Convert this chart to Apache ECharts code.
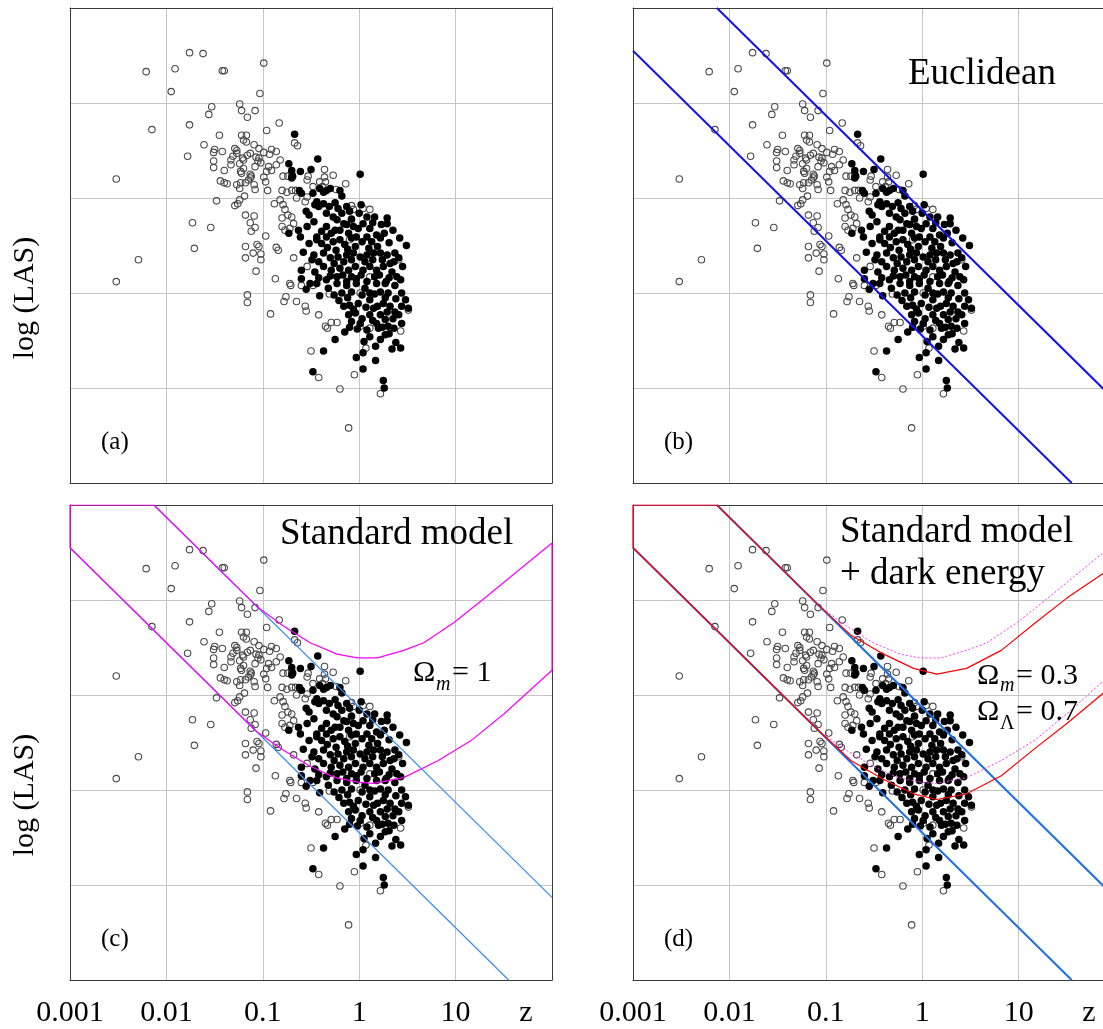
<!DOCTYPE html>
<html>
<head>
<meta charset="utf-8">
<script src="https://cdn.jsdelivr.net/npm/echarts@6/dist/echarts.min.js"></script>
<style>
  html, body { margin: 0; padding: 0; background: #ffffff; }
  #chart { width: 1103px; height: 1029px; }
</style>
</head>
<body>
<div id="chart"></div>
<script>
// Horizontal axis: log10(z); vertical axis: log(LAS) in decades (arbitrary zero).
const tickLabels = ['0.001', '0.01', '0.1', '1', '10', ''];

// Sources with open symbols: [log10 z, log LAS]
const openSources = [
  [-1.76,4.53],[-1.62,4.52],[-2.21,4.33],[-1.91,4.36],[-1.42,4.34],[-1.40,4.34],[-0.99,4.42],[-1.95,4.12],[-1.03,4.10],[-1.53,3.96],
  [-1.56,3.88],[-1.24,3.99],[-1.22,3.92],[-1.08,3.92],[-1.16,3.85],[-2.15,3.72],[-1.76,3.77],[-0.96,3.71],[-0.83,3.79],[-1.45,3.66],
  [-1.61,3.56],[-1.78,3.44],[-2.52,3.20],[-1.22,3.66],[-1.17,3.66],[-1.20,3.61],[-1.17,3.59],[-1.09,3.56],[-1.04,3.52],[-0.99,3.48],
  [-0.91,3.51],[-0.86,3.49],[-1.50,3.51],[-1.51,3.48],[-1.42,3.49],[-1.29,3.52],[-1.27,3.50],[-1.31,3.44],[-1.33,3.40],[-1.16,3.45],
  [-1.21,3.42],[-1.24,3.36],[-1.20,3.31],[-1.51,3.39],[-1.51,3.32],[-1.40,3.29],[-1.07,3.43],[-1.05,3.39],[-1.08,3.33],[-1.02,3.37],
  [-0.93,3.46],[-0.94,3.33],[-0.91,3.29],[-0.86,3.35],[-1.13,3.25],[-1.13,3.21],[-1.18,3.16],[-1.22,3.26],[-1.44,3.18],[-1.40,3.16],
  [-1.37,3.15],[-1.09,3.14],[-1.08,3.09],[-0.97,3.17],[-0.95,3.08],[-1.24,3.10],[-1.19,3.02],[-1.24,2.98],[-1.48,2.97],[-1.29,2.92],
  [-1.26,2.94],[-0.88,2.94],[-1.27,3.47],[-1.33,3.35],[-1.23,3.28],[-1.20,3.40],[-1.13,3.47],[-1.04,3.42],[-1.12,3.23],[-1.15,3.19],
  [-1.23,3.16],[-1.27,3.14],[-0.96,3.28],[-0.99,3.22],
  [-1.54,2.69],[-0.97,2.60],[-0.80,2.70],[-0.72,2.68],[-0.82,2.98],[-0.79,2.93],[-0.77,2.88],[-0.74,2.82],[-0.80,2.79],[-0.70,2.80],
  [-0.82,3.40],[-0.79,3.23],[-0.74,3.23],[-0.80,3.08],[-0.75,3.06],[-0.70,3.08],[-0.66,3.08],[-0.65,3.00],[-0.54,3.01],[-0.56,2.96],
  [-0.67,3.58],[-0.64,3.55],[-0.36,3.30],[-0.27,3.24],[-0.36,3.22],[-0.41,3.17],[-0.53,3.23],[-0.35,3.17],[-0.38,3.12],[-0.24,3.09],
  [-0.14,3.15],[-0.08,2.92],[-0.06,2.88],
  [-1.73,2.74],[-1.18,2.82],[-1.09,2.81],[-1.13,2.74],[-1.08,2.69],[-1.12,2.65],[-1.71,2.47],[-1.18,2.49],[-1.06,2.51],[-1.04,2.49],
  [-1.10,2.42],[-1.02,2.41],[-1.18,2.37],[-1.02,2.35],[-1.07,2.23],[-0.86,2.48],[-0.84,2.45],[-2.29,2.35],[-2.52,2.12],[-0.87,2.15],
  [-1.16,1.98],[-1.16,1.90],[-0.92,1.78],
  [-0.68,2.73],[-0.77,2.66],[-0.68,2.37],[-0.54,2.28],[-0.72,2.10],[0.41,2.35],[0.11,2.17],[-0.10,2.56],[-0.08,2.77],[0.04,2.89],
  [0.11,2.88],[-0.48,3.12],[-0.54,3.19],[-0.70,3.25],
  [-0.71,2.08],[-0.60,2.08],[-0.48,2.08],[-0.76,1.96],[-0.78,1.91],[-0.65,1.91],[-0.56,1.86],[-0.55,1.81],[-0.42,1.77],[-0.35,1.65],
  [-0.33,1.63],[-0.29,1.69],[-0.23,1.69],[0.01,1.65],[0.11,1.63],[0.43,1.60],[0.51,1.82],[0.07,1.42],[-0.50,1.39],[-0.05,1.14],
  [-0.42,1.11],[-0.20,0.99],[0.22,0.94],[-0.11,0.58],[-0.31,1.99],[0.01,2.00]
];

// Sources with filled symbols: [log10 z, log LAS]
const filledSources = [
  [-0.67,3.67],[-0.43,3.41],[-0.73,3.36],[-0.70,3.29],[-0.69,3.23],[-0.70,3.21],[-0.50,3.30],[-0.61,3.28],[-0.62,3.08],[-0.60,3.05],
  [-0.48,3.05],[-0.44,2.96],[-0.42,2.91],[-0.46,2.93],[-0.41,3.10],[-0.34,3.08],[-0.30,3.10],[-0.18,3.02],[-0.13,2.91],[-0.22,2.89],
  [-0.34,2.84],[-0.27,2.80],[-0.23,2.77],[-0.16,2.73],[-0.20,2.66],[-0.11,2.63],[-0.06,2.70],[-0.03,2.59],[-0.29,2.63],[-0.34,2.59],
  [-0.44,2.59],[-0.39,2.65],[-0.54,2.70],[-0.63,2.66],[-0.61,2.59],[-0.73,2.63],
  [0.01,3.25],[-0.37,3.06],[-0.20,3.08],[-0.37,2.94],[-0.55,2.86],[-0.52,2.82],[-0.18,2.84],[-0.10,2.86],[0.00,2.84],[0.08,2.80],
  [0.16,2.80],[0.29,2.79],[0.29,2.73],[0.23,2.72],[-0.34,2.70],[-0.25,2.66],[-0.13,2.72],[-0.01,2.68],[0.04,2.73],[0.11,2.68],
  [0.18,2.61],[0.22,2.58],[0.13,2.54],[0.08,2.59],[0.49,2.50],[-0.44,2.56],[-0.39,2.52],[-0.27,2.54],[-0.20,2.56],[-0.15,2.51],
  [-0.08,2.58],[-0.04,2.49],[0.03,2.54],[-0.58,2.43],[-0.49,2.35],[-0.60,2.24],[-0.46,2.22],[-0.37,2.42],[-0.30,2.37],[-0.22,2.38],
  [-0.13,2.40],[-0.06,2.42],[0.01,2.38],[0.08,2.40],[0.15,2.42],[0.22,2.42],[0.29,2.40],[0.37,2.42],[0.41,2.37],[0.32,2.31],
  [-0.37,2.28],[-0.29,2.24],[-0.20,2.26],[-0.11,2.24],[-0.04,2.28],[0.04,2.24],[0.11,2.28],[0.18,2.24],[0.25,2.28],[0.34,2.22],
  [0.39,2.17],[-0.34,2.14],[-0.23,2.17],[-0.13,2.12],[-0.03,2.15],[0.08,2.12],[0.16,2.17],[0.27,2.10],[-0.51,2.10],[-0.60,2.15],
  [-0.23,2.10],[-0.13,2.08],[-0.03,2.10],[0.18,2.10],[0.28,2.12],[0.37,2.08],[-0.18,2.00],[-0.08,2.01],[0.03,1.98],[0.11,2.00],
  [0.22,2.01],[0.30,2.00],[0.44,2.00],[-0.44,2.10],[-0.41,1.97],[-0.16,1.86],[-0.10,1.87],[-0.01,1.89],[0.11,1.93],[0.15,1.84],
  [0.25,1.89],[0.32,1.86],[0.37,1.80],[0.44,1.86],[0.51,1.84],[-0.04,1.79],[0.03,1.73],[0.11,1.77],[0.22,1.77],[0.27,1.72],
  [0.35,1.73],[-0.08,1.70],[0.01,1.68],[0.08,1.61],[0.18,1.68],[0.20,1.63],[0.30,1.65],[0.44,1.68],[-0.15,1.59],[0.27,1.56],
  [-0.25,1.51],[0.22,1.51],[0.38,1.48],[0.34,1.41],[0.43,1.42],[0.17,1.44],[-0.37,1.39],[0.04,1.37],[-0.03,1.32],[0.17,1.29],
  [0.04,1.20],[-0.48,1.17],[0.25,1.08],[0.26,1.00],
  [-0.47,2.75],[-0.31,2.91],[-0.25,2.95],[-0.08,2.78],[0.02,2.93],[0.14,2.74],[0.35,2.66],[0.26,2.63],[0.42,2.58],[0.31,2.53],
  [0.19,2.49],[0.10,2.47],[-0.12,2.46],[-0.24,2.45],[-0.33,2.48],[-0.52,2.52],[-0.47,2.40],[-0.42,2.33],[-0.26,2.31],[-0.16,2.33],
  [-0.08,2.35],[0.06,2.33],[0.14,2.35],[0.24,2.35],[0.36,2.33],[0.45,2.28],[0.43,2.14],[0.31,2.16],[0.21,2.19],[0.02,2.19],
  [-0.08,2.17],[-0.17,2.19],[-0.30,2.18],[-0.42,2.16],[-0.55,2.04],[-0.32,2.05],[-0.26,1.98],[-0.12,1.95],[0.06,2.05],[0.16,1.99],
  [0.27,1.95],[0.38,1.94],[0.48,1.93],[-0.21,1.92],[-0.06,1.83],[0.07,1.85],[0.19,1.86],[0.29,1.80],[0.41,1.77],[-0.11,1.77],
  [0.14,1.71],[0.24,1.64],[0.36,1.63],[-0.02,1.62],[0.11,1.54],[-0.10,1.64],[0.31,1.57],[0.05,1.49]
];

// Euclidean limits (slope -1): upper and lower envelopes
const euclidUpper = [[-2.13, 5], [2, 0.87]];
const euclidLower = [[-3, 4.55], [1.55, 0]];

// Standard model, Omega_m = 1 (clipped at the plot frame)
const matterUpper = [[-3, 5], [-2.13, 5], [-1.06, 3.93], [-0.79, 3.73], [-0.51, 3.55], [-0.23, 3.43], [-0.02, 3.39],
  [0.19, 3.39], [0.46, 3.47], [0.67, 3.55], [0.98, 3.76], [1.29, 4.01], [1.65, 4.31], [2.0, 4.60]];
const matterLower = [[-3, 4.55], [-1.06, 2.61], [-0.79, 2.42], [-0.51, 2.25], [-0.25, 2.13], [0.0, 2.08], [0.15, 2.07],
  [0.46, 2.13], [0.82, 2.31], [1.16, 2.52], [1.50, 2.80], [2.0, 3.26]];

// Omega_m = 0.3, Omega_Lambda = 0.7
const lambdaUpper = [[-3, 5], [-2.13, 5], [-1.06, 3.93], [-0.74, 3.63], [-0.40, 3.43], [-0.09, 3.28], [0.15, 3.22],
  [0.46, 3.28], [0.82, 3.47], [1.16, 3.75], [1.50, 4.02], [1.89, 4.29], [2.0, 4.38]];
const lambdaLower = [[-3, 4.55], [-1.06, 2.61], [-0.74, 2.31], [-0.40, 2.11], [-0.09, 1.96], [0.15, 1.90],
  [0.46, 1.96], [0.82, 2.15], [1.16, 2.43], [1.50, 2.70], [1.89, 3.03], [2.0, 3.10]];

// Closed outline of the band between two curves
function band(upper, lower) {
  return upper.concat(lower.slice().reverse(), [upper[0]]);
}

const X_MIN = -3, X_MAX = 2, Y_MIN = 0, Y_MAX = 5;
// The right-hand panels run off the page edge, so their visible range stops short of 100.
const X_MAX_RIGHT = 1.875;
const PANEL_H = 475;
const panels = [
  { left: 70,  top: 8,   width: 482, xMax: X_MAX,       rightFrame: true },
  { left: 633, top: 8,   width: 470, xMax: X_MAX_RIGHT, rightFrame: false },
  { left: 70,  top: 505, width: 482, xMax: X_MAX,       rightFrame: true },
  { left: 633, top: 505, width: 470, xMax: X_MAX_RIGHT, rightFrame: false }
];
const SERIF = '"Liberation Serif", "Times New Roman", serif';
const FRAME = '#3a3a3a';
const GRIDLINE = '#c6c6c6';

const grid = panels.map(p => ({ left: p.left, top: p.top, width: p.width, height: PANEL_H, containLabel: false }));

const xAxis = [];
const yAxis = [];
panels.forEach((p, i) => {
  const labelled = i >= 2;
  xAxis.push({
    type: 'value', gridIndex: i, min: X_MIN, max: p.xMax, interval: 1, position: 'bottom',
    axisLine: { show: true, onZero: false, lineStyle: { color: FRAME, width: 1 } },
    axisTick: { show: false },
    axisLabel: {
      show: labelled, showMinLabel: true, showMaxLabel: false, margin: 18,
      color: '#000', fontSize: 30, fontFamily: SERIF,
      formatter: v => tickLabels[Math.round(v - X_MIN)] || ''
    },
    splitLine: { show: true, lineStyle: { color: GRIDLINE, width: 1 } }
  });
  xAxis.push({
    type: 'value', gridIndex: i, min: X_MIN, max: p.xMax, position: 'top',
    axisLine: { show: true, onZero: false, lineStyle: { color: FRAME, width: 1 } },
    axisTick: { show: false }, axisLabel: { show: false }, splitLine: { show: false }
  });
  yAxis.push({
    type: 'value', gridIndex: i, min: Y_MIN, max: Y_MAX, interval: 1, position: 'left',
    axisLine: { show: true, onZero: false, lineStyle: { color: FRAME, width: 1 } },
    axisTick: { show: false }, axisLabel: { show: false },
    splitLine: { show: true, lineStyle: { color: GRIDLINE, width: 1 } }
  });
  yAxis.push({
    type: 'value', gridIndex: i, min: Y_MIN, max: Y_MAX, position: 'right',
    axisLine: { show: p.rightFrame, onZero: false, lineStyle: { color: FRAME, width: 1 } },
    axisTick: { show: false }, axisLabel: { show: false }, splitLine: { show: false }
  });
});

function curve(i, data, color, width, type, z) {
  return {
    type: 'line', xAxisIndex: i * 2, yAxisIndex: i * 2, data: data,
    showSymbol: false, symbol: 'none', smooth: false, clip: true, silent: true,
    lineStyle: { color: color, width: width, type: type || 'solid', opacity: 1 }, z: z || 5
  };
}

const series = [];
panels.forEach((p, i) => {
  series.push({
    type: 'scatter', xAxisIndex: i * 2, yAxisIndex: i * 2, data: openSources,
    symbol: 'circle', symbolSize: 6.5, silent: true, z: 2,
    itemStyle: { color: 'rgba(0,0,0,0)', borderColor: '#4a4a4a', borderWidth: 1.1, opacity: 1 }
  });
  series.push({
    type: 'scatter', xAxisIndex: i * 2, yAxisIndex: i * 2, data: filledSources,
    symbol: 'circle', symbolSize: 7.5, silent: true, z: 3,
    itemStyle: { color: '#000000', opacity: 1 }
  });
});

// (b) Euclidean
series.push(curve(1, euclidUpper, '#1414e4', 2));
series.push(curve(1, euclidLower, '#1414e4', 2));
// (c) standard model
series.push(curve(2, euclidUpper, '#3a8cf2', 1.2));
series.push(curve(2, euclidLower, '#3a8cf2', 1.2));
series.push(curve(2, band(matterUpper, matterLower), '#ff00ff', 1.2, 'solid', 6));
// (d) standard model + dark energy
series.push(curve(3, euclidUpper, '#1f70e4', 2));
series.push(curve(3, euclidLower, '#1f70e4', 2));
series.push(curve(3, band(matterUpper, matterLower), '#ff33ff', 1, [2, 2], 6));
series.push(curve(3, band(lambdaUpper, lambdaLower), '#ff0000', 1.2, 'solid', 7));

function txt(text, x, y, size, opts) {
  opts = opts || {};
  return {
    type: 'text', x: x, y: y, rotation: opts.rotation || 0, z: 100,
    style: {
      text: text, fill: '#000',
      font: (opts.italic ? 'italic ' : '') + size + 'px ' + SERIF,
      align: opts.align || 'left', verticalAlign: 'middle'
    }
  };
}

const graphic = [
  txt('(a)', 101, 442, 25), txt('(b)', 664, 442, 25),
  txt('(c)', 101, 939, 25), txt('(d)', 664, 939, 25),
  txt('Euclidean', 908, 74.5, 37),
  txt('Standard model', 280, 534.5, 37),
  txt('Standard model', 840, 532.5, 37),
  txt('+ dark energy', 840, 574.5, 37),
  txt('Ω', 413, 673, 30), txt('m', 436, 685, 20, { italic: true }), txt('= 1', 452, 673, 30),
  txt('Ω', 977, 676, 30), txt('m', 1000, 686, 20, { italic: true }), txt('= 0.3', 1016, 676, 30),
  txt('Ω', 977, 712, 30), txt('Λ', 1000, 724, 20), txt('= 0.7', 1016, 712, 30),
  txt('log (LAS)', 25, 298, 30, { rotation: Math.PI / 2, align: 'center' }),
  txt('log (LAS)', 25, 795, 30, { rotation: Math.PI / 2, align: 'center' }),
  txt('z', 526, 1013, 30, { align: 'center' }),
  txt('z', 1089, 1013, 30, { align: 'center' })
];

const chart = echarts.init(document.getElementById('chart'), null, { renderer: 'canvas' });
chart.setOption({
  animation: false,
  backgroundColor: '#ffffff',
  grid: grid,
  xAxis: xAxis,
  yAxis: yAxis,
  series: series,
  graphic: graphic
});
</script>
</body>
</html>
